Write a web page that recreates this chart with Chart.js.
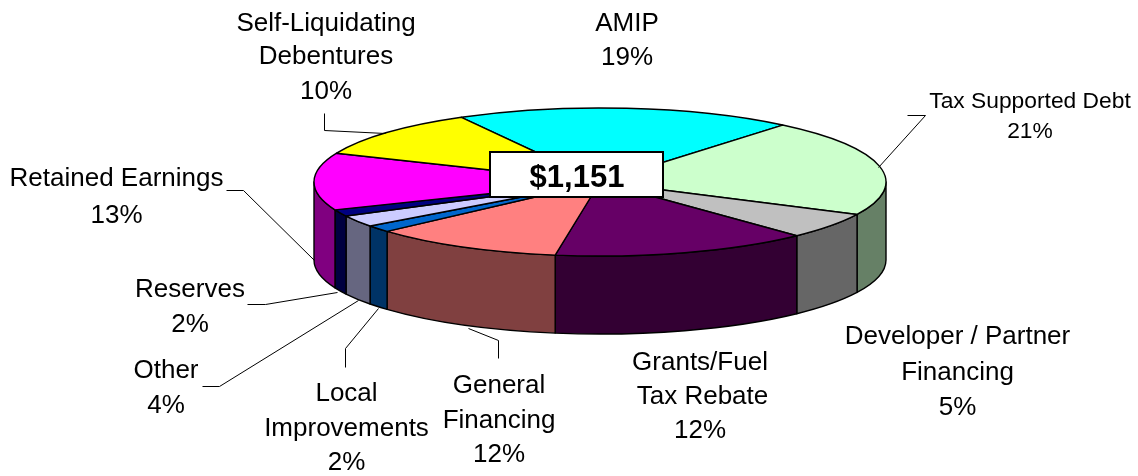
<!DOCTYPE html>
<html><head><meta charset="utf-8">
<script src="https://cdn.jsdelivr.net/npm/chart.js@4"></script>
<style>html,body{margin:0;padding:0;background:#fff}#w{position:relative;width:1138px;height:476px}</style>
</head><body><div id="w"><canvas id="c" width="1138" height="476"></canvas></div>
<script>
// Categories, starting at the AMIP slice and running clockwise
const categories = ["AMIP","Tax Supported Debt","Developer / Partner Financing","Grants/Fuel Tax Rebate","General Financing","Local Improvements","Other","Reserves","Retained Earnings","Self-Liquidating Debentures"];
// Printed percentages
const printedPercent = [19,21,5,12,12,2,4,2,13,10];
// Slice shares as drawn in the picture (%)
const drawnShare = [19.08,21.2,5.7,14.58,10.86,1.5,2.53,1.47,12.5,10.58];
const topColors = ["#00FFFF","#CCFFCC","#C0C0C0","#660066","#FF8080","#0066CC","#CCCCFF","#000080","#FF00FF","#FFFF00"];
const wallColors = ["#008080","#668066","#666666","#330033","#804040","#003366","#666680","#000040","#800080","#808000"];
const centerValue = "$1,151";

// Layout of the annotation text and leader lines
const F = 'Liberation Sans, Arial, sans-serif';
const labelLayout = [
 {cx:627,size:26,lines:[["AMIP",31],[printedPercent[0]+"%",65]]},
 {cx:1030,size:22.8,lines:[["Tax Supported Debt",108],[printedPercent[1]+"%",138]]},
 {cx:957.5,size:26,lines:[["Developer / Partner",344],["Financing",380],[printedPercent[2]+"%",415]]},
 {cx:700,size:26,lines:[["Grants/Fuel",370],["Tax Rebate",404,702.5],[printedPercent[3]+"%",438]]},
 {cx:499,size:26,lines:[["General",393],["Financing",428],[printedPercent[4]+"%",462]]},
 {cx:346.5,size:26,lines:[["Local",401],["Improvements",436],[printedPercent[5]+"%",470]]},
 {cx:166,size:26,lines:[["Other",378],[printedPercent[6]+"%",413]]},
 {cx:190,size:26,lines:[["Reserves",297],[printedPercent[7]+"%",332]]},
 {cx:116.5,size:26,lines:[["Retained Earnings",186],[printedPercent[8]+"%",223]]},
 {cx:326,size:26,lines:[["Self-Liquidating",31],["Debentures",64],[printedPercent[9]+"%",99]]}
];
const leaders = [
 [[907,115],[925,115],[878,167]],
 [[498,358],[498,340],[468,328]],
 [[345,367],[345,348],[378,308]],
 [[202,386],[219,386],[358,300]],
 [[247,304],[265,304],[337,292]],
 [[226,190],[243,190],[314,260]],
 [[324,113],[324,130],[385,133]]
];
const SQUASH = 74/286, DEPTH = 78;

function wedgePath(ctx,a){
  const r=a.outerRadius;
  ctx.beginPath();
  ctx.moveTo(a.x,a.y);
  ctx.ellipse(a.x,a.y,r,r*SQUASH,0,a.startAngle,a.endAngle);
  ctx.closePath();
}
function wallPaths(ctx,a,color){
  const r=a.outerRadius, ry=r*SQUASH;
  for(const k of [-2*Math.PI,0,2*Math.PI]){
    const s=Math.max(a.startAngle+k,0), e=Math.min(a.endAngle+k,Math.PI);
    if(e<=s) continue;
    ctx.beginPath();
    ctx.ellipse(a.x,a.y,r,ry,0,s,e);
    ctx.ellipse(a.x,a.y+DEPTH,r,ry,0,e,s,true);
    ctx.closePath();
    ctx.fillStyle=color; ctx.fill(); ctx.stroke();
  }
}
const pie3d = {
  id:'pie3d',
  beforeDatasetsDraw(chart){
    const ctx=chart.ctx, arcs=chart.getDatasetMeta(0).data;
    ctx.save();
    ctx.lineJoin='round'; ctx.strokeStyle='#000'; ctx.lineWidth=1.4;
    arcs.forEach((a,i)=>wallPaths(ctx,a,wallColors[i]));
    arcs.forEach((a,i)=>{wedgePath(ctx,a);ctx.fillStyle=topColors[i];ctx.fill();ctx.stroke();});
    ctx.restore();
    return false;
  },
  afterDraw(chart){
    const ctx=chart.ctx;
    ctx.save();
    ctx.strokeStyle='#000'; ctx.lineWidth=1;
    leaders.forEach(p=>{
      ctx.beginPath();
      p.forEach((q,i)=>i?ctx.lineTo(q[0]+.5,q[1]+.5):ctx.moveTo(q[0]+.5,q[1]+.5));
      ctx.stroke();
    });
    // centre box
    ctx.fillStyle='#fff'; ctx.lineWidth=2;
    ctx.fillRect(490,152,173,45); ctx.strokeRect(490,152,173,45);
    ctx.fillStyle='#000'; ctx.textAlign='center'; ctx.textBaseline='alphabetic';
    ctx.font='bold 31px '+F;
    ctx.fillText(centerValue,577,186.5);
    // labels
    labelLayout.forEach(l=>{
      ctx.font=l.size+'px '+F;
      l.lines.forEach(t=>ctx.fillText(t[0],t[2]||l.cx,t[1]));
    });
    ctx.restore();
  }
};
new Chart(document.getElementById('c'),{
  type:'pie',
  data:{labels:categories,datasets:[{data:drawnShare,backgroundColor:topColors,borderColor:'#000',borderWidth:1.4}]},
  options:{
    responsive:false,animation:false,
    rotation:331,radius:286,
    layout:{padding:{left:62,bottom:112}},
    plugins:{legend:{display:false},tooltip:{enabled:false}}
  },
  plugins:[pie3d]
});
</script></body></html>
